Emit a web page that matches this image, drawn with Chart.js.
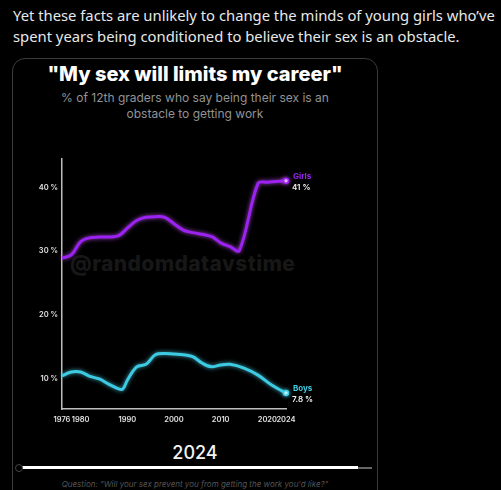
<!DOCTYPE html>
<html>
<head>
<meta charset="utf-8">
<script src="https://cdn.jsdelivr.net/npm/chart.js@4.4.1/dist/chart.umd.min.js"></script>
<style>
  html, body { margin:0; padding:0; background:#000; width:501px; height:490px; overflow:hidden; }
  .abs { position:absolute; }
  #tweet { left:13px; top:5px; width:488px; color:#e7e9ea; font-family:"Noto Sans", sans-serif; font-size:14.8px; line-height:21px; }
  #card { left:12px; top:58px; width:364px; height:460px; border:1px solid #3a3a3a; border-radius:13px; }
  #title { left:12px; top:62px; width:366px; text-align:center; color:#fff; font-family:Inter, sans-serif; font-weight:800; font-size:20px; }
  #subtitle { left:12px; top:90px; width:366px; text-align:center; color:#939393; font-family:Inter, sans-serif; font-size:12px; line-height:16px; }
  #wm { left:70px; top:251px; color:#171717; font-family:Inter, sans-serif; font-weight:800; font-size:21px; letter-spacing:0.4px; }
  #year { left:12px; top:442px; width:366px; text-align:center; color:#f2f2f2; font-family:Inter, sans-serif; font-weight:500; font-size:18px; }
  #slider { left:20px; top:466px; width:338px; height:3px; background:#fff; }
  #slider2 { left:358px; top:467px; width:14px; height:1.5px; background:#666; }
  #knob { left:15px; top:464px; width:6px; height:6px; border:1px solid #444; border-radius:50%; background:#000; }
  #question { left:12px; top:479px; width:366px; text-align:center; color:#555; font-family:Inter, sans-serif; font-style:italic; font-size:8px; }
  #chartWrap { left:20px; top:150px; width:320px; height:290px; }
</style>
</head>
<body>
<div id="tweet" class="abs">Yet these facts are unlikely to change the minds of young girls who’ve spent years being conditioned to believe their sex is an obstacle.</div>
<div id="card" class="abs"></div>
<div id="title" class="abs">"My sex will limits my career"</div>
<div id="subtitle" class="abs">% of 12th graders who say being their sex is an<br>obstacle to getting work</div>
<div id="wm" class="abs">@randomdatavstime</div>
<div id="chartWrap" class="abs"><canvas id="c" width="320" height="290"></canvas></div>
<div id="year" class="abs">2024</div>
<div id="slider" class="abs"></div>
<div id="slider2" class="abs"></div>
<div id="knob" class="abs"></div>
<div id="question" class="abs">Question: "Will your sex prevent you from getting the work you'd like?"</div>
<script>
const girlsYears  = [1976, 1978, 1980, 1982, 1984, 1988, 1990, 1992, 1994, 1996, 1998, 2000, 2002, 2004, 2008, 2010, 2012, 2014, 2018, 2020, 2024];
const girlsValues = [28.9, 29.4, 31.5, 32.1, 32.2, 32.4, 33.6, 34.8, 35.3, 35.4, 35.3, 34.3, 33.3, 32.9, 32.3, 31.3, 30.7, 30.1, 40.6, 40.8, 41.0];
const boysYears   = [1976, 1978, 1980, 1982, 1984, 1986, 1988, 1989, 1990, 1992, 1994, 1996, 1998, 2000, 2002, 2004, 2006, 2008, 2010, 2012, 2015, 2018, 2021, 2024];
const boysValues  = [10.5, 11.1, 11.1, 10.4, 10.0, 9.2, 8.5, 8.4, 9.8, 11.9, 12.3, 13.8, 14.0, 13.9, 13.8, 13.5, 12.5, 11.9, 12.2, 12.3, 11.7, 10.6, 9.0, 7.8];
const seriesNames = ["Girls", "Boys"];
const xTickValues = [1976, 1980, 1990, 2000, 2010, 2020, 2024];
const yTickValues = [10, 20, 30, 40];

const girlsColor = '#9b22f2';
const boysColor = '#3ccbe3';

function pts(xs, ys) { return xs.map((x, i) => ({x: x, y: ys[i]})); }

const glow = {
  id: 'glow',
  beforeDatasetDraw(chart, args) {
    const ctx = chart.ctx;
    ctx.save();
    ctx.shadowColor = args.index === 0 ? 'rgba(200,80,255,0.8)' : 'rgba(90,230,255,0.7)';
    ctx.shadowBlur = 4;
  },
  afterDatasetDraw(chart) { chart.ctx.restore(); }
};

const endLabels = {
  id: 'endLabels',
  afterDatasetsDraw(chart) {
    const ctx = chart.ctx;
    chart.data.datasets.forEach((ds, i) => {
      const meta = chart.getDatasetMeta(i);
      const el = meta.data[meta.data.length - 1];
      const v = ds.data[ds.data.length - 1].y;
      ctx.save();
      ctx.textAlign = 'left';
      ctx.textBaseline = 'middle';
      ctx.font = 'bold 8px Inter, sans-serif';
      ctx.fillStyle = ds.borderColor;
      ctx.fillText(ds.label, el.x + 7, el.y - 4.5);
      ctx.fillStyle = '#f0f0f0';
      ctx.font = '600 8px Inter, sans-serif';
      ctx.fillText(v + ' %', el.x + 6, el.y + 7);
      ctx.restore();
    });
  }
};

new Chart(document.getElementById('c'), {
  type: 'line',
  data: {
    datasets: [
      { label: seriesNames[0], data: pts(girlsYears, girlsValues), borderColor: girlsColor, borderWidth: 3, tension: 0.35, fill: false,
        pointRadius: c => c.dataIndex === girlsYears.length - 1 ? 2.5 : 0, pointBackgroundColor: '#f4d8ff', pointBorderColor: girlsColor, pointBorderWidth: 1.5 },
      { label: seriesNames[1], data: pts(boysYears, boysValues), borderColor: boysColor, borderWidth: 3, tension: 0.35, fill: false,
        pointRadius: c => c.dataIndex === boysYears.length - 1 ? 2.5 : 0, pointBackgroundColor: '#d8faff', pointBorderColor: boysColor, pointBorderWidth: 1.5 }
    ]
  },
  options: {
    responsive: false,
    animation: false,
    clip: false,
    layout: { padding: { top: 8, right: 54, left: 0, bottom: 0 } },
    plugins: { legend: { display: false }, tooltip: { enabled: false } },
    scales: {
      x: {
        type: 'linear', min: 1976, max: 2024,
        afterBuildTicks: s => { s.ticks = xTickValues.map(v => ({value: v})); },
        afterFit: s => { s.height = 31; },
        grid: { display: false, drawTicks: false },
        border: { display: true, color: '#bdbdbd', width: 1.5 },
        ticks: { autoSkip: false, maxRotation: 0, padding: 6, color: '#e0e0e0', font: { family: 'Inter', size: 7.5, weight: '600' }, callback: v => String(v) }
      },
      y: {
        min: 5.3, max: 44.5,
        afterBuildTicks: s => { s.ticks = yTickValues.map(v => ({value: v})); },
        afterFit: s => { s.width = 42; },
        grid: { display: false, drawTicks: false },
        border: { display: true, color: '#bdbdbd', width: 1.5 },
        ticks: { padding: 4, color: '#e0e0e0', font: { family: 'Inter', size: 7.5, weight: '600' }, callback: v => v + ' %' }
      }
    }
  },
  plugins: [glow, endLabels]
});
</script>
</body>
</html>
